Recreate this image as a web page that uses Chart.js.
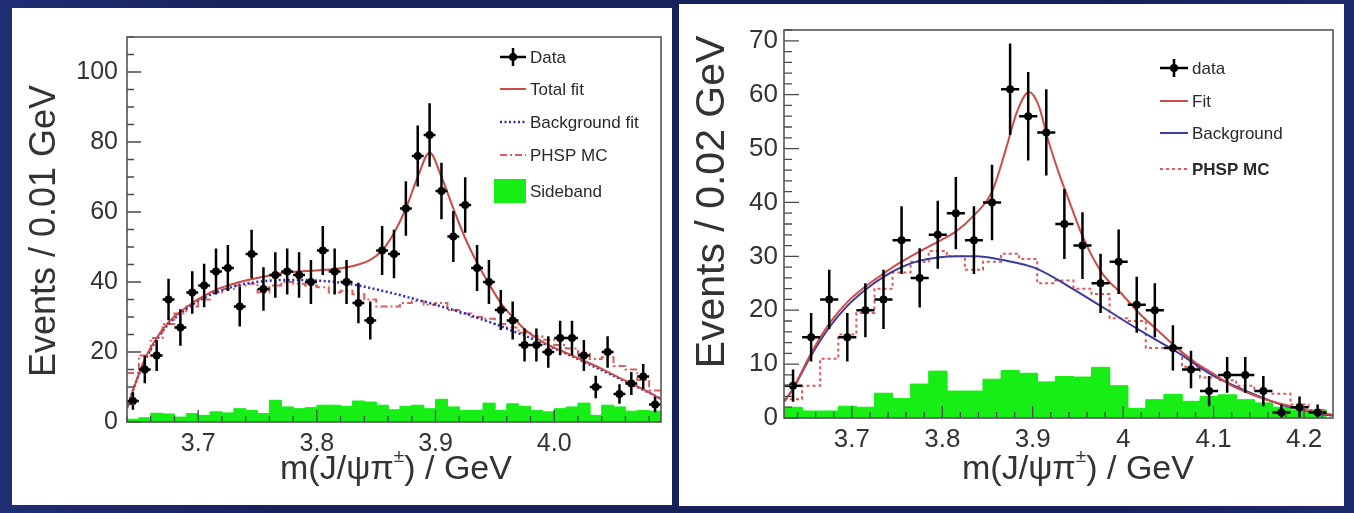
<!DOCTYPE html>
<html lang="en">
<head>
<meta charset="UTF-8">
<title>m(J/psi pi) spectra</title>
<script src="https://cdn.jsdelivr.net/npm/chart.js"></script>
<style>
  html, body { margin: 0; padding: 0; }
  body {
    width: 1354px; height: 513px; overflow: hidden; position: relative;
    background: linear-gradient(90deg, #1f2e74 0%, #17225b 20%, #16205a 80%, #1c2a6c 100%);
  }
  .panel { position: absolute; background: #fff; }
  #panelL { left: 12px; top: 8px; width: 660px; height: 497px; }
  #panelR { left: 679px; top: 4px; width: 665px; height: 502px; }
  .panel canvas { display: block; }
</style>
</head>
<body>

<div class="panel" id="panelL"><canvas id="chartL" width="660" height="497"></canvas></div>
<div class="panel" id="panelR"><canvas id="chartR" width="665" height="502"></canvas></div>

<script>
// ---------- left plot: 0.01 GeV bins ----------
const leftRange = [3.64, 4.09];
const leftBin = 0.01;
const leftData = [6, 15, 19, 35, 27, 37, 39, 43, 44, 33, 48, 38, 42, 43, 42, 40, 49, 43, 40, 34,
                  29, 49, 48, 61, 76, 82, 66, 53, 62, 44, 40, 32, 29, 22, 22, 20, 24, 24, 19, 10,
                  20, 8, 11, 13, 5];
const leftErr = [2.5, 3.9, 4.4, 5.9, 5.2, 6.1, 6.2, 6.6, 6.6, 5.7, 6.9, 6.2, 6.5, 6.6, 6.5, 6.3, 7, 6.6, 6.3, 5.8,
                 5.4, 7, 6.9, 7.8, 8.7, 9.1, 8.1, 7.3, 7.9, 6.6, 6.3, 5.7, 5.4, 4.7, 4.7, 4.5, 4.9, 4.9, 4.4, 3.2,
                 4.5, 2.8, 3.3, 3.6, 2.2];
const leftFitX = [3.640, 3.645, 3.655, 3.665, 3.675, 3.685, 3.695, 3.705, 3.715, 3.725, 3.735, 3.745, 3.755,
                  3.765, 3.775, 3.785, 3.795, 3.805, 3.815, 3.825, 3.835, 3.845, 3.855, 3.865, 3.875, 3.885,
                  3.895, 3.905, 3.915, 3.925, 3.935, 3.945, 3.955, 3.965, 3.975, 3.985, 3.995, 4.005, 4.015,
                  4.025, 4.035, 4.045, 4.055, 4.065, 4.075, 4.085, 4.090];
const leftFitY = [4, 9, 18, 24, 28.5, 31.5, 34, 36, 37.8, 39, 40, 40.8, 41.5,
                  42.2, 42.7, 43, 43.2, 43.4, 43.7, 44.2, 45, 46.3, 49, 54, 61, 70,
                  77, 70, 61, 52.5, 45.5, 39.5, 34, 30, 26.5, 24, 22, 20.5, 19,
                  17.5, 16, 14.3, 12.6, 11, 9.3, 7.5, 6.5];
const leftBkgY = [4, 9, 17.5, 23.5, 28, 31, 33.5, 35.5, 37, 38.2, 39.2, 39.8, 40.2,
                  40.5, 40.6, 40.6, 40.5, 40.3, 40, 39.5, 39, 38.3, 37.5, 36.7, 35.8, 34.9,
                  34, 33, 32, 31, 29.8, 28.6, 27.4, 26, 24.7, 23.3, 21.8, 20.3, 18.8,
                  17.2, 15.6, 14, 12.4, 10.8, 9.2, 7.5, 6.6];
const leftPhsp = [14, 19, 24, 28, 31, 33, 35, 37, 38, 39, 39.5, 37, 39, 40, 39.5, 39, 38.5, 37, 37.5, 36.5,
                  35, 33, 33, 34, 34.5, 33.5, 34, 32, 31, 30, 29.5, 28, 27, 25.5, 24.5, 23.5, 22, 21, 19.5, 18,
                  18.5, 16, 15, 12, 9];
const leftSideband = [0.8, 1.2, 2.5, 2.3, 1.4, 2.4, 1.9, 2.9, 2.6, 3.8, 3.3, 2.4, 6.2, 4.3, 3.8, 4.1, 4.8, 4.8, 4.5, 6,
                      5.7, 4.8, 3.5, 4.5, 4.8, 3.8, 6.5, 4.3, 3.3, 3.3, 5.4, 3.3, 5.2, 4.5, 3.3, 2.9, 3.8, 4.3, 5.4, 1.9,
                      4.8, 4.3, 3.1, 3.3, 3.1];
const leftXTicks = [3.7, 3.8, 3.9, 4.0];
const leftXLabels = ['3.7', '3.8', '3.9', '4.0'];
const leftYTicks = [0, 20, 40, 60, 80, 100];
const leftYLabels = ['0', '20', '40', '60', '80', '100'];
const leftLegend = ['Data', 'Total fit', 'Background fit', 'PHSP MC', 'Sideband'];

// ---------- right plot: 0.02 GeV bins ----------
const rightRange = [3.625, 4.232];
const rightBin = 0.02;
const rightData = [6, 15, 22, 15, 20, 22, 33, 26, 34, 38, 33, 40, 61, 56, 53, 36, 32, 25, 29, 21,
                   20, 13, 9, 5, 8, 8, 5, 1, 2, 1];
const rightErr = [3, 4.5, 5.5, 4.5, 5, 5.5, 6.3, 5.5, 6.3, 6.7, 6.3, 7, 8.5, 8.2, 8, 6.5, 6.2, 5.5, 6, 5.2,
                  5, 4.2, 3.5, 2.8, 3.3, 3.3, 2.8, 1.5, 2, 1.5];
const rightFitX = [3.625, 3.635, 3.655, 3.675, 3.695, 3.715, 3.735, 3.755, 3.775, 3.795, 3.815, 3.835, 3.855,
                   3.870, 3.883, 3.896, 3.907, 3.916, 3.929, 3.940, 3.957, 3.977, 3.998, 4.018, 4.038, 4.058,
                   4.079, 4.099, 4.119, 4.139, 4.160, 4.180, 4.200, 4.221, 4.232];
const rightFitY = [3, 5.5, 12, 17.5, 21.5, 24.4, 26.8, 29, 30.9, 32.7, 34.6, 37.6, 42,
                   49.7, 57, 60.5, 57.8, 52.2, 45.4, 40.4, 33, 26.8, 23.1, 19.4, 16.3, 13.2,
                   10.4, 8.3, 6.1, 4.6, 3.3, 2.4, 1.5, 0.9, 0.6];
const rightBkgX = [3.625, 3.635, 3.655, 3.675, 3.695, 3.715, 3.735, 3.755, 3.775, 3.795, 3.817, 3.837, 3.867,
                   3.903, 3.940, 3.977, 4.018, 4.058, 4.099, 4.139, 4.180, 4.221, 4.232];
const rightBkgY = [3, 5.4, 11.6, 16.8, 20.8, 23.8, 26.2, 28, 29.2, 29.8, 30, 30, 29.3,
                   27.8, 24.4, 20.6, 16.3, 12.4, 7.9, 4.8, 2.2, 0.7, 0.4];
const rightPhsp = [3.5, 6, 11, 15.5, 19.5, 24, 27, 29, 31, 30, 27.5, 29, 30.5, 29.5, 25, 25.5, 24, 23, 18.5, 18,
                   13, 13, 9.5, 7.5, 7, 6, 5, 4.5, 2.5, 1.5];
const rightSideband = [2, 1.3, 1.3, 2.2, 2, 4.6, 3.6, 6.3, 8.7, 5, 5, 7.2, 8.8, 8.3, 6.7, 7.7, 7.6, 9.4, 6, 1.8,
                       3.4, 4.4, 3.1, 4, 4.3, 3.4, 2.8, 2, 1.5, 1.5];
const rightXTicks = [3.7, 3.8, 3.9, 4.0, 4.1, 4.2];
const rightXLabels = ['3.7', '3.8', '3.9', '4', '4.1', '4.2'];
const rightYTicks = [0, 10, 20, 30, 40, 50, 60, 70];
const rightYLabels = ['0', '10', '20', '30', '40', '50', '60', '70'];
const rightLegend = ['data', 'Fit', 'Background', 'PHSP MC'];

const FONT = '"Liberation Sans", Arial, Helvetica, sans-serif';
const GREEN = '#16ee16';

// helpers to turn the arrays into {x,y} points for the library
function centers(lo, w, n) {
    return Array.from({ length: n }, (_, i) => +(lo + (i + 0.5) * w).toFixed(4));
}
function pts(xs, ys) {
    return xs.map((x, i) => ({ x: x, y: ys[i] }));
}
function steps(cs, vals, w) {
    const out = [];
    cs.forEach((c, i) => {
        out.push({ x: c - w / 2, y: vals[i] }, { x: c + w / 2, y: vals[i] });
    });
    return out;
}
function errBars(cs, vals, errs, w) {
    const out = [];
    cs.forEach((c, i) => {
        out.push({ x: c, y: vals[i] - errs[i] }, { x: c, y: vals[i] + errs[i] }, { x: c, y: null });
        out.push({ x: c - w / 2, y: vals[i] }, { x: c + w / 2, y: vals[i] }, { x: c, y: null });
    });
    return out;
}

// frame, inward ROOT-style ticks, axis titles and legend
const deco = {
    id: 'deco',
    afterDatasetsDraw(chart, args, o) {
        const ctx = chart.ctx, a = chart.chartArea;
        const xs = chart.scales.x, ys = chart.scales.y;
        ctx.save();
        ctx.strokeStyle = '#4a4a4a';
        ctx.lineWidth = 1.3;
        ctx.beginPath();
        const isMajor = (v, list) => list.some(t => Math.abs(t - v) < 1e-6);
        for (let k = Math.ceil(ys.min / o.yMinor - 1e-6); k * o.yMinor <= ys.max + 1e-6; k++) {
            const v = k * o.yMinor, p = ys.getPixelForValue(v);
            const len = isMajor(v, o.yMajor) ? o.yLen[0] : o.yLen[1];
            ctx.moveTo(a.left, p); ctx.lineTo(a.left + len, p);
        }
        for (let k = Math.ceil(xs.min / o.xMinor - 1e-6); k * o.xMinor <= xs.max + 1e-6; k++) {
            const v = k * o.xMinor, p = xs.getPixelForValue(v);
            const len = isMajor(v, o.xMajor) ? o.xLen[0] : o.xLen[1];
            ctx.moveTo(p, a.bottom); ctx.lineTo(p, a.bottom - len);
        }
        ctx.stroke();
        ctx.lineWidth = 1.6;
        ctx.strokeStyle = '#555';
        ctx.strokeRect(a.left, a.top, a.right - a.left, a.bottom - a.top);
        ctx.restore();
    },
    afterDraw(chart, args, o) {
        const ctx = chart.ctx;
        ctx.save();
        ctx.fillStyle = '#333';
        // y title
        ctx.font = o.yTitleSize + 'px ' + FONT;
        ctx.textAlign = 'center';
        ctx.textBaseline = 'middle';
        ctx.save();
        ctx.translate(o.yTitlePos[0], o.yTitlePos[1]);
        ctx.rotate(-Math.PI / 2);
        ctx.fillText(o.yTitle, 0, 0);
        ctx.restore();
        // x title with superscript
        const p1 = 'm(J/\u03c8\u03c0', sup = '\u00b1', p2 = ') / GeV';
        ctx.textAlign = 'left';
        const big = o.titleSize + 'px ' + FONT, small = Math.round(o.titleSize * 0.55) + 'px ' + FONT;
        ctx.font = big;
        const w1 = ctx.measureText(p1).width, w3 = ctx.measureText(p2).width;
        ctx.font = small;
        const w2 = ctx.measureText(sup).width;
        let x0 = o.xTitlePos[0] - (w1 + w2 + w3) / 2;
        const yb = o.xTitlePos[1];
        ctx.font = big; ctx.fillText(p1, x0, yb);
        ctx.font = small; ctx.fillText(sup, x0 + w1, yb - o.titleSize * 0.38);
        ctx.font = big; ctx.fillText(p2, x0 + w1 + w2, yb);

        // legend
        ctx.textBaseline = 'middle';
        o.legend.forEach(e => {
            const [l, r] = o.legendLine;
            ctx.save();
            if (e.kind === 'data') {
                ctx.strokeStyle = '#000'; ctx.lineWidth = 2.5;
                ctx.beginPath();
                ctx.moveTo(l, e.y); ctx.lineTo(r, e.y);
                ctx.moveTo((l + r) / 2, e.y - 9); ctx.lineTo((l + r) / 2, e.y + 9);
                ctx.stroke();
                ctx.fillStyle = '#000';
                ctx.beginPath(); ctx.arc((l + r) / 2, e.y, 4, 0, Math.PI * 2); ctx.fill();
            } else if (e.kind === 'box') {
                ctx.fillStyle = GREEN;
                ctx.fillRect(l - 6, e.y - 12, r - l + 6, 24);
            } else {
                ctx.strokeStyle = e.color; ctx.lineWidth = e.width;
                ctx.setLineDash(e.dash || []);
                ctx.beginPath(); ctx.moveTo(l, e.y); ctx.lineTo(r, e.y); ctx.stroke();
            }
            ctx.restore();
            ctx.fillStyle = '#2a2a2a';
            ctx.font = (e.bold ? 'bold ' : '') + o.legendSize + 'px ' + FONT;
            ctx.fillText(e.text, o.legendText, e.y + 1);
        });
        ctx.restore();
    }
};

function makeChart(id, c) {
    const cs = centers(c.range[0], c.bin, c.data.length);
    return new Chart(document.getElementById(id), {
        type: 'line',
        data: {
            datasets: [
                { label: 'data', data: pts(cs, c.data), showLine: false, pointRadius: 4,
                  pointBackgroundColor: '#000', pointBorderWidth: 0, order: 0 },
                { label: 'errors', data: errBars(cs, c.data, c.err, c.bin), borderColor: '#000',
                  borderWidth: 2.5, pointRadius: 0, spanGaps: false, order: 1 },
                { label: 'fit', data: pts(c.fitX, c.fitY), borderColor: c.fitColor, borderWidth: 2,
                  pointRadius: 0, cubicInterpolationMode: 'monotone', order: 2 },
                { label: 'background', data: pts(c.bkgX, c.bkgY), borderColor: c.bkgColor, borderWidth: c.bkgWidth,
                  borderDash: c.bkgDash, pointRadius: 0, cubicInterpolationMode: 'monotone', order: 3 },
                { label: 'phsp', data: steps(cs, c.phsp, c.bin), borderColor: c.phspColor, borderWidth: 2,
                  borderDash: c.phspDash, pointRadius: 0, tension: 0, order: 4 },
                { label: 'sideband', data: steps(cs, c.side, c.bin), borderColor: GREEN, borderWidth: 1,
                  backgroundColor: GREEN, fill: 'origin', pointRadius: 0, tension: 0, order: 5 }
            ]
        },
        options: {
            responsive: false,
            animation: false,
            events: [],
            layout: { autoPadding: false, padding: c.padding },
            plugins: { legend: { display: false }, tooltip: { enabled: false }, deco: c.deco },
            scales: {
                x: {
                    type: 'linear', min: c.range[0], max: c.range[1],
                    afterBuildTicks: s => { s.ticks = c.xTicks.map(v => ({ value: v })); },
                    afterFit: s => { s.height = c.xHeight; },
                    grid: { display: false, drawTicks: false }, border: { display: false },
                    ticks: { autoSkip: false, maxRotation: 0, padding: c.xPad, color: '#333',
                             font: { family: FONT, size: c.tickSize },
                             callback: (v, i) => c.xLabels[i] }
                },
                y: {
                    min: 0, max: c.yMax,
                    afterBuildTicks: s => { s.ticks = c.yTicks.map(v => ({ value: v })); },
                    afterFit: s => { s.width = c.yWidth; },
                    grid: { display: false, drawTicks: false }, border: { display: false },
                    ticks: { autoSkip: false, padding: c.yPad, color: '#333',
                             font: { family: FONT, size: c.tickSize },
                             callback: (v, i) => c.yLabels[i] }
                }
            }
        },
        plugins: [deco]
    });
}

makeChart('chartL', {
    range: leftRange, bin: leftBin, data: leftData, err: leftErr,
    fitX: leftFitX, fitY: leftFitY, bkgX: leftFitX, bkgY: leftBkgY,
    phsp: leftPhsp, side: leftSideband,
    fitColor: '#cc4a44', bkgColor: '#2d2db8', bkgWidth: 2.5, bkgDash: [2, 2.5],
    phspColor: '#d86060', phspDash: [7, 3, 2, 3],
    xTicks: leftXTicks, xLabels: leftXLabels, yTicks: leftYTicks, yLabels: leftYLabels,
    yMax: 110, padding: { top: 29, right: 11, left: 0, bottom: 0 },
    xHeight: 83, yWidth: 115, xPad: 7, yPad: 9, tickSize: 25,
    deco: {
        yMinor: 5, yMajor: leftYTicks, yLen: [14, 7],
        xMinor: 0.02, xMajor: leftXTicks, xLen: [12, 6],
        titleSize: 34, yTitleSize: 36, yTitle: 'Events / 0.01 GeV', yTitlePos: [33, 223], xTitlePos: [384, 462],
        legendLine: [488, 514], legendText: 518, legendSize: 17,
        legend: [
            { kind: 'data', text: leftLegend[0], y: 49 },
            { kind: 'line', text: leftLegend[1], y: 81, color: '#cc4a44', width: 2 },
            { kind: 'line', text: leftLegend[2], y: 114, color: '#2d2db8', width: 2.5, dash: [2, 2.5] },
            { kind: 'line', text: leftLegend[3], y: 147, color: '#d86060', width: 2, dash: [7, 3, 2, 3] },
            { kind: 'box', text: leftLegend[4], y: 183 }
        ]
    }
});

makeChart('chartR', {
    range: rightRange, bin: rightBin, data: rightData, err: rightErr,
    fitX: rightFitX, fitY: rightFitY, bkgX: rightBkgX, bkgY: rightBkgY,
    phsp: rightPhsp, side: rightSideband,
    fitColor: '#d04a46', bkgColor: '#3b3b9e', bkgWidth: 2, bkgDash: [],
    phspColor: '#e05858', phspDash: [3, 3],
    xTicks: rightXTicks, xLabels: rightXLabels, yTicks: rightYTicks, yLabels: rightYLabels,
    yMax: 72, padding: { top: 26, right: 11, left: 0, bottom: 0 },
    xHeight: 88, yWidth: 105, xPad: 6, yPad: 6, tickSize: 26,
    deco: {
        yMinor: 2, yMajor: rightYTicks, yLen: [15, 8],
        xMinor: 0.02, xMajor: rightXTicks, xLen: [12, 6],
        titleSize: 34, yTitleSize: 41, yTitle: 'Events / 0.02 GeV', yTitlePos: [34, 198], xTitlePos: [399, 466],
        legendLine: [481, 509], legendText: 513, legendSize: 17,
        legend: [
            { kind: 'data', text: rightLegend[0], y: 64 },
            { kind: 'line', text: rightLegend[1], y: 97, color: '#d04a46', width: 2 },
            { kind: 'line', text: rightLegend[2], y: 129, color: '#3b3b9e', width: 2 },
            { kind: 'line', text: rightLegend[3], y: 165, color: '#e05858', width: 2, dash: [3, 3], bold: true }
        ]
    }
});
</script>
</body>
</html>
